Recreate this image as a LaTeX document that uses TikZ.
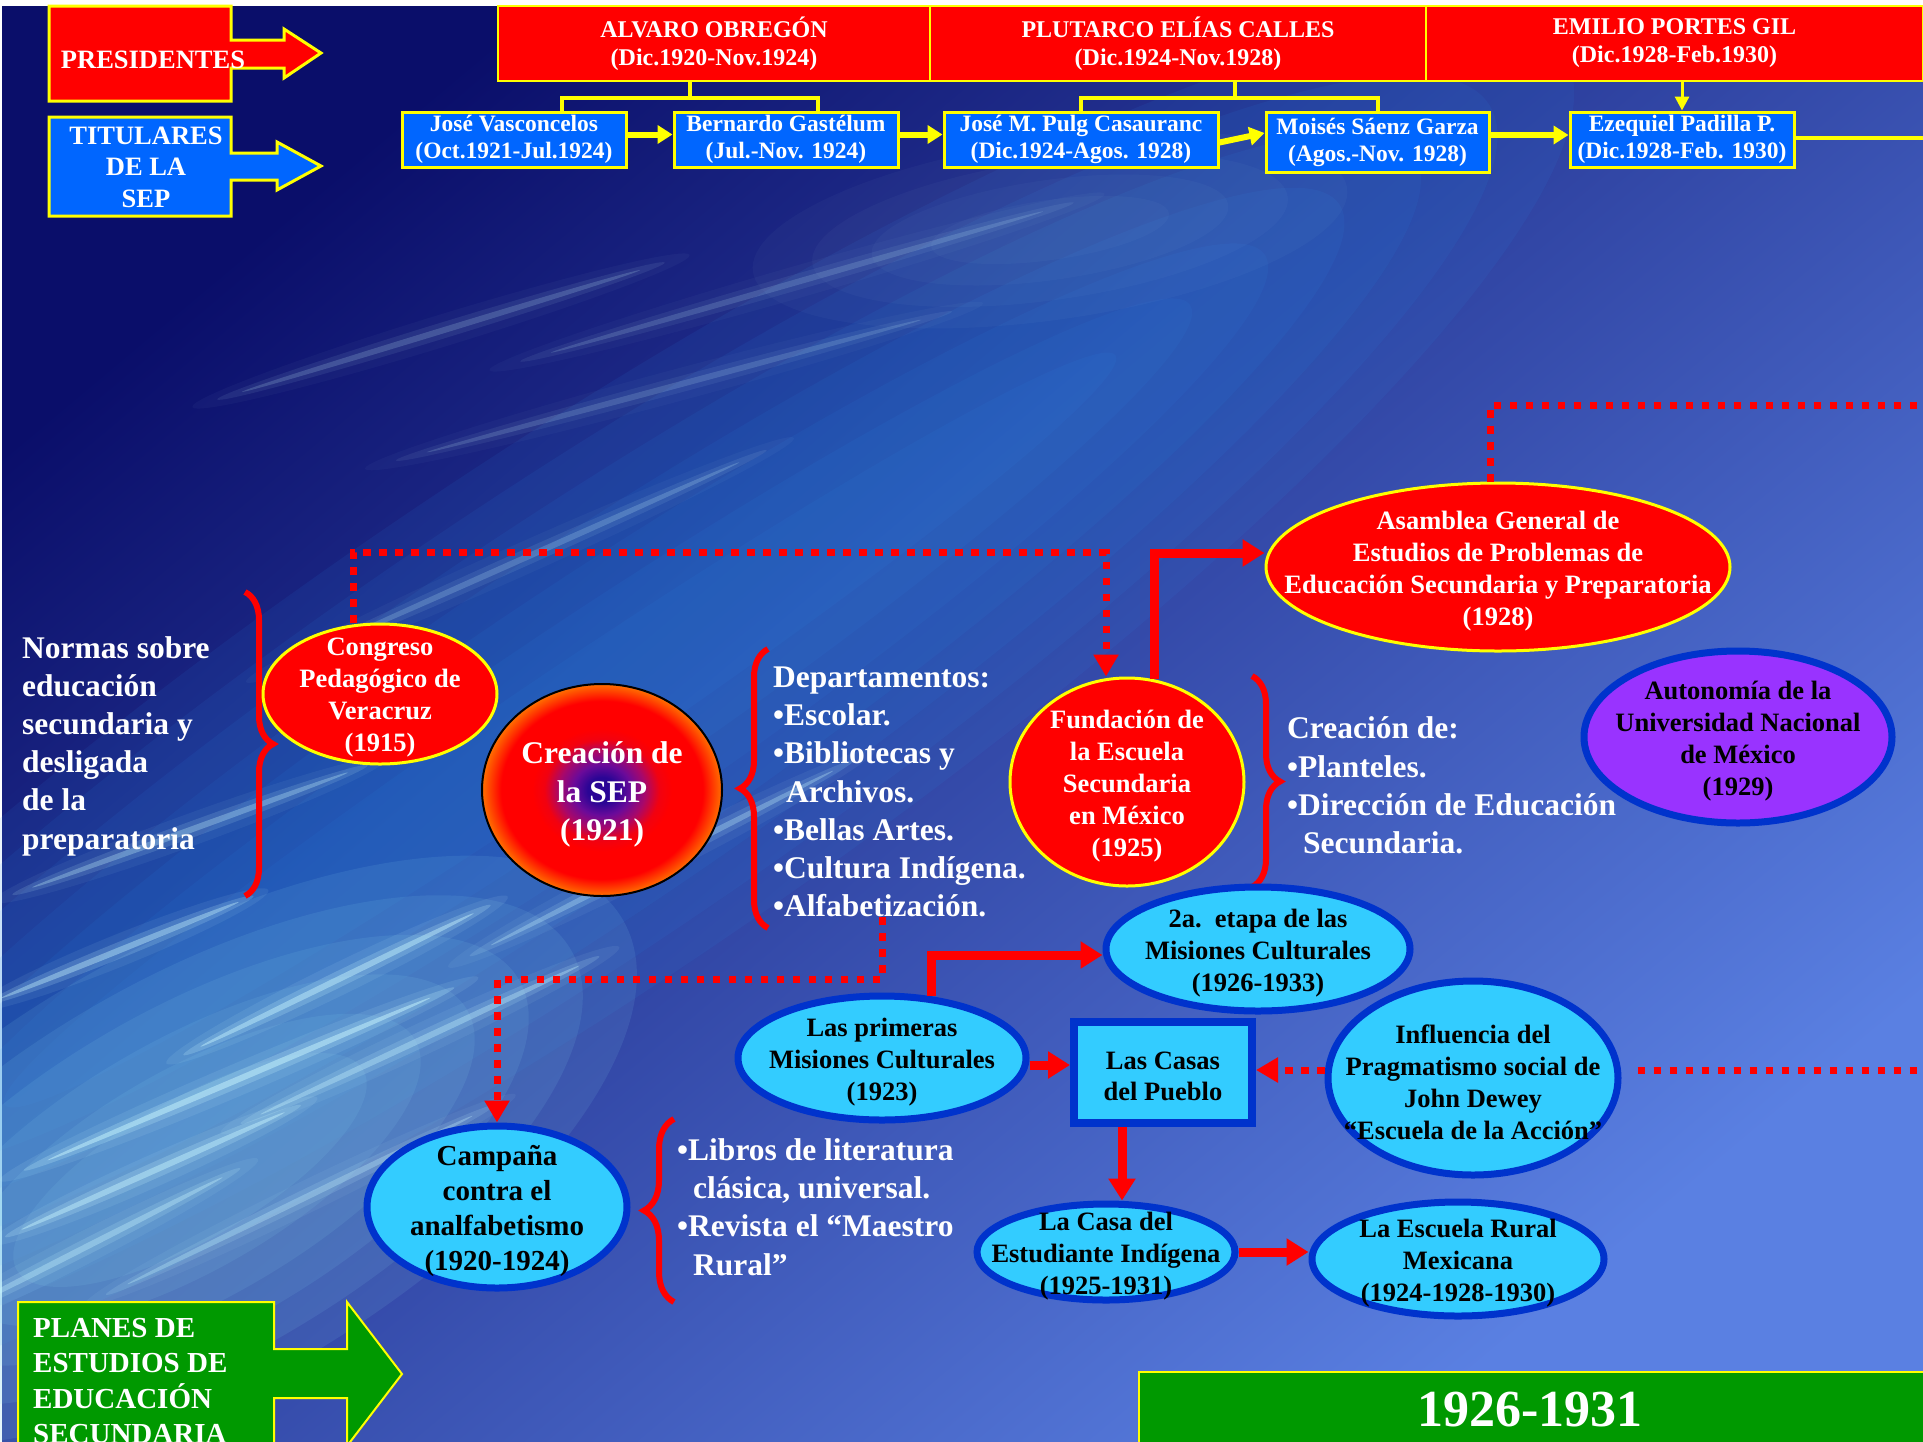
\documentclass[tikz,border=0pt]{standalone}
\usepackage{fontspec}
\setmainfont{Liberation Serif}
\usetikzlibrary{arrows.meta, positioning, shapes.geometric, calc, decorations.pathreplacing}
\definecolor{cred}{HTML}{FF0000}
\definecolor{cyel}{HTML}{FFFF00}
\definecolor{ctit}{HTML}{0066FF}
\definecolor{cgreen}{HTML}{009900}
\definecolor{csky}{HTML}{33CCFF}
\definecolor{cdeep}{HTML}{0033CC}
\definecolor{cviolet}{HTML}{9933FF}
\definecolor{cnavy}{HTML}{0A0E6A}
\definecolor{cmid}{HTML}{2C48B5}
\definecolor{clight}{HTML}{5A80E2}
\definecolor{cband}{HTML}{2A8CE8}
\definecolor{caqua}{HTML}{8AD8F0}
\definecolor{cstreak}{HTML}{C8F6FF}
\definecolor{cindigo}{HTML}{2A0595}
\definecolor{cplum}{HTML}{6A0A9A}
\definecolor{cwine}{HTML}{A8086A}
\definecolor{corange}{HTML}{FF7000}
\pgfdeclareradialshading{sepball}{\pgfpoint{0bp}{0bp}}{color(0bp)=(cindigo); color(3bp)=(cindigo); color(6bp)=(cplum); color(9bp)=(cwine); color(12bp)=(cred!85!cwine); color(14.5bp)=(cred); color(21bp)=(cred); color(23bp)=(cred!50!corange); color(25bp)=(corange); color(50bp)=(corange)}
\newcommand{\fsz}[2]{\fontsize{#1}{#2}\selectfont\bfseries}
\tikzset{
  arrowbox/.style={draw=cyel, fill=#1, line width=3pt},
  side/.style={text=white, font=\fsz{26.5}{31.5}, align=center, inner sep=0pt},
  pres/.style={draw=cyel, fill=cred, line width=1.5pt, text=white, font=\fsz{24}{28}, align=center, inner sep=0pt, minimum height=75pt},
  tit/.style={draw=cyel, fill=ctit, line width=3pt, text=white, font=\fsz{23.5}{27}, align=center, inner sep=0pt, minimum height=55pt},
  tree/.style={draw=cyel, line width=4pt},
  yarrow/.style={draw=cyel, line width=6pt, -{Triangle[length=15pt, width=18pt]}},
  redell/.style={ellipse, draw=cyel, fill=cred, line width=3pt, inner sep=0pt},
  skyell/.style={ellipse, draw=cdeep, fill=csky, line width=7pt, inner sep=0pt},
  intext/.style={font=\fsz{26.5}{32}, align=center, text=#1, inner sep=0pt, yshift=-4pt},
  intext/.default=white,
  free/.style={font=\fsz{31.5}{38.2}, align=left, text=white, inner sep=0pt, yshift=-2pt},
  brace/.style={draw=cred, line width=6pt, decorate, decoration={brace, amplitude=#1}},
  brace/.default=28pt,
  redarrow/.style={draw=cred, line width=9pt, -{Triangle[length=22pt, width=26pt]}},
  dotline/.style={draw=cred, line width=7pt, dash pattern=on 7.5pt off 8.5pt},
  dotarrow/.style={dotline, -{Triangle[length=22pt, width=24pt]}},
  streak/.style={cstreak, fill opacity=#1},
}

\begin{document}
\begin{tikzpicture}[x=1pt, y=-1pt]
  \useasboundingbox (0,0) rectangle (1923,1441);
  \clip (0,0) rectangle (1923,1441);
  % background
  \fill[white] (0,0) rectangle (1923,1441);
  \fill[top color=cnavy, middle color=cmid, bottom color=clight, shading angle=40] (2,6) rectangle (1923,1441);
  \foreach \s in {1,...,7}
    \fill[cband, fill opacity=0.09, rotate around={34:(560,730)}] (560,730) ellipse [x radius={1300-90*\s}, y radius={300-35*\s}];
  \foreach \s in {1,...,6}
    \fill[caqua, fill opacity=0.11, rotate around={30:(190,1170)}] (190,1170) ellipse [x radius={560-60*\s}, y radius={250-30*\s}];
  \foreach \s in {1,...,4}
    \fill[cstreak, fill opacity=0.03, rotate around={8:(1050,230)}] (1050,230) ellipse [x radius={360-60*\s}, y radius={110-20*\s}];
  % light streaks
  \foreach \cx/\cy/\hl/\ang/\op in {239/1079/260/23/0.5, 153/1171/180/24/0.45, 337/980/190/26/0.45, 662/858/240/27/0.3, 190/830/210/20/0.3, 441/331/260/17/0.18, 674/386/320/15/0.16, 797/282/320/16/0.16, 520/560/300/24/0.2, 120/950/160/22/0.4, 420/1040/220/25/0.35, 80/1250/200/27/0.35, 300/1200/240/26/0.3}{
    \fill[streak=0.08*\op/0.4, rotate around={\ang:(\cx,\cy)}] (\cx,\cy) ellipse [x radius=\hl, y radius=16];
    \fill[streak=0.18*\op/0.4, rotate around={\ang:(\cx,\cy)}] (\cx,\cy) ellipse [x radius=0.9*\hl, y radius=8];
    \fill[streak=\op, rotate around={\ang:(\cx,\cy)}] (\cx,\cy) ellipse [x radius=0.8*\hl, y radius=3];
  }

  % left arrows
  \draw[arrowbox=cred] (49,6) -- (231,6) -- (231,40) -- (284,40) -- (284,29) -- (321,53) -- (284,78) -- (284,68) -- (231,68) -- (231,101) -- (49,101) -- cycle;
  \node[side] (prest) at (153,60) {PRESIDENTES};
  \draw[arrowbox=ctit] (49,117) -- (231,117) -- (231,153) -- (277,153) -- (277,142) -- (321,166) -- (277,190) -- (277,180) -- (231,180) -- (231,216) -- (49,216) -- cycle;
  \node[side] (titt) at (146,167) {TITULARES\\DE LA\\SEP};

  % presidents and titulares
  \node[pres, minimum width=432pt] (obregon) at (714,43.5) {ALVARO OBREGÓN\\(Dic.1920-Nov.1924)};
  \node[pres, minimum width=496pt] (calles) at (1178,43.5) {PLUTARCO ELÍAS CALLES\\(Dic.1924-Nov.1928)};
  \node[pres, minimum width=497pt] (portes) at (1674.5,43.5) {EMILIO PORTES GIL\\(Dic.1928-Feb.1930)};
  \node[tit, minimum width=224pt] (vasc) at (514,139.5) {José Vasconcelos\\(Oct.1921-Jul.1924)};
  \node[tit, minimum width=224pt] (gast) at (786,139.5) {Bernardo Gastélum\\(Jul.-Nov. 1924)};
  \node[tit, minimum width=274pt] (puig) at (1081,139.5) {José M. Pulg Casauranc\\(Dic.1924-Agos. 1928)};
  \node[tit, minimum width=223pt, minimum height=60pt] (saenz) at (1377.5,142) {Moisés Sáenz Garza\\(Agos.-Nov. 1928)};
  \node[tit, minimum width=224pt] (padilla) at (1682,139.5) {Ezequiel Padilla P.\\(Dic.1928-Feb. 1930)};
  \coordinate (edgeT) at (1923,138);
  \draw[tree] ([xshift=-24pt]obregon.south) -- ++(0,16) coordinate (jo);
  \draw[tree] ([xshift=48pt]vasc.north) |- (jo) -| ([xshift=32pt]gast.north);
  \draw[tree] ([xshift=57pt]calles.south) -- ++(0,16) coordinate (jc);
  \draw[tree] (puig.north) |- (jc) -| (saenz.north);
  \draw[tree, line width=3pt, -{Triangle[length=14pt, width=14pt]}] (portes.south -| padilla.north) -- (padilla.north);
  \draw[yarrow] ([yshift=5pt]vasc.east) -- ([yshift=5pt]gast.west);
  \draw[yarrow] ([yshift=5pt]gast.east) -- ([yshift=5pt]puig.west);
  \draw[yarrow] ([yshift=-3pt]puig.east) -- ([yshift=9pt]saenz.west);
  \draw[yarrow] ([yshift=7pt]saenz.east) -- ([yshift=4.5pt]padilla.west);
  \draw[tree] ([yshift=1.5pt]padilla.east) -- (edgeT);

  % upper row
  \node[free, anchor=west] (normas) at (22,744) {Normas sobre\\educación\\secundaria y\\desligada\\de la\\preparatoria};
  \draw[brace] (245,592) -- (245,896);
  \node[redell, minimum width=234pt, minimum height=140pt] (cong) at (380,694) {};
  \node[intext] (congt) at (cong) {Congreso\\Pedagógico de\\Veracruz\\(1915)};
  \node[ellipse, draw=black, line width=2pt, shading=sepball, minimum width=240pt, minimum height=212pt] (sep) at (602,790) {};
  \node[free, align=center, yshift=-2.5pt] (sept) at (sep) {Creación de\\la SEP\\(1921)};
  \draw[brace] (768,928) -- (768,649);
  \node[free, anchor=west] (deps) at (773,790) {Departamentos:\\•Escolar.\\•Bibliotecas y\\\hspace*{13pt}Archivos.\\•Bellas Artes.\\•Cultura Indígena.\\•Alfabetización.};
  \node[redell, minimum width=234pt, minimum height=208pt] (fund) at (1127,782) {};
  \node[intext] (fundt) at (fund) {Fundación de\\la Escuela\\Secundaria\\en México\\(1925)};
  \draw[brace] (1252,676) -- (1252,887);
  \node[free, anchor=west] (crea) at (1287,783.5) {Creación de:\\•Planteles.\\•Dirección de Educación\\\hspace*{16pt}Secundaria.};
  \node[redell, minimum width=464pt, minimum height=168pt] (asam) at (1498,567) {};
  \node[intext] (asamt) at (asam) {Asamblea General de\\Estudios de Problemas de\\Educación Secundaria y Preparatoria\\(1928)};
  \node[ellipse, draw=cdeep, fill=cviolet, line width=7pt, minimum width=308pt, minimum height=172pt] (auto) at (1738,737) {};
  \node[intext=black] (autot) at (auto) {Autonomía de la\\Universidad Nacional\\de México\\(1929)};
  \coordinate (edgeA) at (1923,405);
  \draw[dotline] ([xshift=-8pt]asam.north) |- (edgeA);
  \draw[dotarrow] ([xshift=-27pt]cong.north) -- ++(0,-70) -| ([xshift=-21pt]fund.north);
  \draw[redarrow] (fund.75) |- ([yshift=14pt]asam.west);

  % lower row
  \node[skyell, minimum width=304pt, minimum height=124pt] (etapa) at (1258,949) {};
  \node[intext=black] (etapat) at (etapa) {2a.\ \ etapa de las\\Misiones Culturales\\(1926-1933)};
  \node[skyell, minimum width=288pt, minimum height=124pt] (prim) at (882,1058) {};
  \node[intext=black] (primt) at (prim) {Las primeras\\Misiones Culturales\\(1923)};
  \node[draw=cdeep, fill=csky, line width=8pt, minimum width=178pt, minimum height=101pt] (casas) at (1163,1072.5) {};
  \node[intext=black, font=\fsz{26.5}{31}] (casast) at (casas) {Las Casas\\del Pueblo};
  \node[skyell, minimum width=290pt, minimum height=194pt] (infl) at (1473,1078) {};
  \node[intext=black] (inflt) at (infl) {Influencia del\\Pragmatismo social de\\John Dewey\\“Escuela de la Acción”};
  \node[skyell, minimum width=258pt, minimum height=96pt] (est) at (1106,1252) {};
  \node[intext=black] (estt) at (est) {La Casa del\\Estudiante Indígena\\(1925-1931)};
  \node[skyell, minimum width=292pt, minimum height=114pt] (rural) at (1458,1259) {};
  \node[intext=black] (ruralt) at (rural) {La Escuela Rural\\Mexicana\\(1924-1928-1930)};
  \node[skyell, minimum width=260pt, minimum height=162pt] (camp) at (497,1207) {};
  \node[intext=black, font=\fsz{29}{35}] (campt) at (camp) {Campaña\\contra el\\analfabetismo\\(1920-1924)};
  \draw[brace=30pt] (674,1302) -- (674,1119);
  \node[free, anchor=west] (libros) at (677,1205) {•Libros de literatura\\\hspace*{16pt}clásica, universal.\\•Revista el “Maestro\\\hspace*{16pt}Rural”};
  \coordinate (edgeB) at (1923,1070);
  \draw[redarrow] (prim.51) |- ([yshift=-6pt]etapa.west);
  \draw[redarrow] ([yshift=-7pt]prim.east) -- ([yshift=-7pt]prim.east -| casas.west);
  \draw[redarrow] ([xshift=-41pt]casas.south) -- ([xshift=-41pt]casas.south |- est.north);
  \draw[redarrow] (est.east) -- (est.east -| rural.west);
  \draw[dotarrow] ([yshift=8pt]infl.west) -- ([yshift=8pt]infl.west -| casas.east);
  \draw[dotline] ([xshift=16pt,yshift=8pt]infl.east) -- (edgeB);
  \draw[dotarrow] ([xshift=109pt]deps.south west) |- ([yshift=143pt]camp.north) -- (camp.north);

  % bottom bars
  \draw[arrowbox=cgreen, line width=2pt] (18,1302) -- (274,1302) -- (274,1349) -- (347,1349) -- (347,1302) -- (402,1374) -- (347,1446) -- (347,1398) -- (274,1398) -- (274,1460) -- (18,1460) -- cycle;
  \node[side, align=left, font=\fsz{29}{35.5}, anchor=north west] (planes) at (33,1318) {PLANES DE\\ESTUDIOS DE\\EDUCACIÓN\\SECUNDARIA};
  \node[draw=cyel, fill=cgreen, line width=2pt, anchor=north west, minimum width=800pt, minimum height=100pt] (period) at (1138,1371) {};
  \node[text=white, font=\fsz{52}{60}, inner sep=0pt] (periodt) at (1530,1410) {1926-1931};
\end{tikzpicture}
\end{document}
